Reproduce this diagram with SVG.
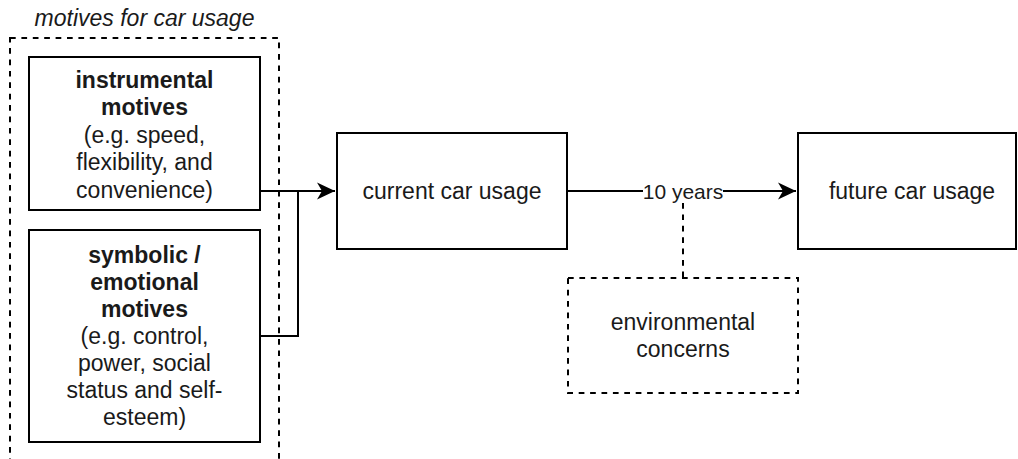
<svg xmlns="http://www.w3.org/2000/svg" width="1018" height="459" viewBox="0 0 1018 459">
<style>
.box{fill:#fff;stroke:#000;stroke-width:2}
.dash{fill:none;stroke:#000;stroke-width:2;stroke-dasharray:5.7 5.7}
.t{font-family:"Liberation Sans",Arial,sans-serif;font-size:23px;fill:#1a1a1a;text-anchor:middle}
.b{font-weight:bold}
.line{fill:none;stroke:#000;stroke-width:2}
</style>
<defs>
<marker id="arr" markerUnits="userSpaceOnUse" markerWidth="20" markerHeight="20" viewBox="-19 -10 20 20" refX="0" refY="0" orient="auto">
<path d="M0,0 L-18,-8.5 L-13,0 L-18,8.5 Z" fill="#000"/>
</marker>
</defs>
<rect width="1018" height="459" fill="#fff"/>
<g id="container">
<rect class="dash" x="10" y="38" width="269" height="440"/>
<text class="t" x="144.5" y="26" font-style="italic">motives for car usage</text>
</g>
<g id="connectors">
<path class="line" d="M260,191 H335" marker-end="url(#arr)"/>
<path class="line" d="M260,336 H298 V191"/>
<path class="line" d="M567,191 H796" marker-end="url(#arr)"/>
<path class="dash" d="M683,203 V278"/>
<rect x="643" y="179" width="80" height="23" fill="#fff"/>
<text class="t" x="683" y="198.5" style="font-size:21px">10 years</text>
</g>
<g id="instrumental">
<rect class="box" x="29" y="57" width="231" height="153"/>
<text class="t" x="144.5" y="87.5"><tspan class="b">instrumental</tspan><tspan class="b" x="144.5" dy="27.5">motives</tspan><tspan x="144.5" dy="27.5">(e.g. speed,</tspan><tspan x="144.5" dy="27.5">flexibility, and</tspan><tspan x="144.5" dy="27.5">convenience)</tspan></text>
</g>
<g id="symbolic">
<rect class="box" x="29" y="230" width="231" height="212"/>
<text class="t" x="144.5" y="262.5"><tspan class="b">symbolic /</tspan><tspan class="b" x="144.5" dy="27">emotional</tspan><tspan class="b" x="144.5" dy="27">motives</tspan><tspan x="144.5" dy="27">(e.g. control,</tspan><tspan x="144.5" dy="27">power, social</tspan><tspan x="144.5" dy="27">status and self-</tspan><tspan x="144.5" dy="27">esteem)</tspan></text>
</g>
<g id="current">
<rect class="box" x="337" y="133" width="230" height="116"/>
<text class="t" x="452" y="199">current car usage</text>
</g>
<g id="future">
<rect class="box" x="798" y="133" width="218" height="116"/>
<text class="t" x="912" y="199">future car usage</text>
</g>
<g id="environmental">
<rect class="dash" x="568" y="278" width="230" height="115"/>
<text class="t" x="683" y="330">environmental</text>
<text class="t" x="683" y="357">concerns</text>
</g>
</svg>
